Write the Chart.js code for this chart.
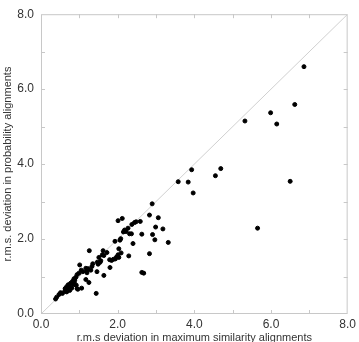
<!DOCTYPE html>
<html>
<head>
<meta charset="utf-8">
<script src="https://cdn.jsdelivr.net/npm/chart.js@4"></script>
<style>
  html, body { margin: 0; padding: 0; background: #fff; }
  #wrap { width: 359px; height: 342px; }
</style>
</head>
<body>
<div id="wrap"><canvas id="scatter"></canvas></div>
<script>
// r.m.s deviation in maximum similarity alignments
const xValues = [
  6.86, 6.62, 5.99, 6.15, 5.32, 4.69, 3.93, 3.84, 4.55, 3.97, 6.50, 5.65, 3.58, 2.90,
  2.83, 3.06, 2.12, 2.01, 2.59, 2.44, 2.48, 2.37, 2.99, 2.27, 2.18, 2.22, 2.15, 3.18,
  2.63, 2.31, 2.36, 2.91, 2.97, 3.32, 2.40, 2.06, 2.08, 1.93, 2.03, 2.09, 2.83, 2.29,
  1.97, 1.94, 1.89, 1.84, 1.79, 2.01, 2.03, 1.72, 1.62, 1.60, 1.64, 1.80, 1.26, 1.51,
  1.56, 1.54, 1.47, 1.49, 1.64, 1.46, 2.63, 2.68, 1.35, 1.33, 1.30, 1.23, 1.19, 1.17,
  1.09, 1.05, 1.01, 1.17, 1.20, 1.25, 1.44,
  0.94, 0.99, 0.91, 0.86, 0.82, 0.77, 0.87, 0.92, 0.85, 1.06, 0.94, 0.96, 0.71, 0.67,
  0.63, 0.75, 0.80, 0.62, 0.67, 0.75, 0.51, 0.47, 0.41, 0.38, 0.64, 0.56, 0.72, 0.88
];
// r.m.s. deviation in probability alignments
const yValues = [
  6.60, 5.59, 5.37, 5.07, 5.15, 3.88, 3.85, 3.52, 3.69, 3.23, 3.54, 2.29, 3.53, 2.94,
  2.64, 2.57, 2.55, 2.49, 2.47, 2.44, 2.46, 2.39, 2.32, 2.29, 2.24, 2.20, 2.19, 2.27,
  2.13, 2.14, 2.14, 2.12, 1.98, 1.91, 1.88, 1.97, 2.01, 1.94, 1.74, 1.63, 1.61, 1.55,
  1.52, 1.47, 1.46, 1.43, 1.45, 1.58, 1.51, 1.64, 1.69, 1.58, 1.56, 1.24, 1.69, 1.51,
  1.42, 1.38, 1.38, 1.33, 1.03, 1.13, 1.11, 1.09, 1.34, 1.27, 1.17, 1.21, 1.14, 1.22,
  1.13, 1.17, 1.31, 0.92, 1.10, 0.84, 0.55,
  1.05, 1.09, 0.98, 0.94, 0.87, 0.82, 0.83, 0.77, 0.78, 0.69, 0.68, 0.66, 0.78, 0.73,
  0.68, 0.76, 0.69, 0.61, 0.59, 0.63, 0.57, 0.52, 0.45, 0.40, 0.66, 0.55, 0.70, 0.90
];
const diagonal = [0, 8];
const majorTicks = [0, 2, 4, 6, 8];
const minorTicks = [1, 2, 3, 4, 5, 6, 7];

const points = xValues.map((x, i) => ({ x: x, y: yValues[i] }));
const diagLine = diagonal.map(v => ({ x: v, y: v }));

// frame round the plot with small ticks pointing inwards
const framePlugin = {
  id: 'frame',
  afterDatasetsDraw(chart) {
    const { ctx, chartArea: a, scales } = chart;
    ctx.save();
    ctx.strokeStyle = '#c8c8c8';
    ctx.lineWidth = 1;
    ctx.strokeRect(a.left + 0.5, a.top + 0.5, a.right - a.left - 1, a.bottom - a.top - 1);
    ctx.beginPath();
    minorTicks.forEach(v => {
      const px = Math.round(scales.x.getPixelForValue(v)) + 0.5;
      const py = Math.round(scales.y.getPixelForValue(v)) + 0.5;
      ctx.moveTo(px, a.bottom); ctx.lineTo(px, a.bottom - 4);
      ctx.moveTo(px, a.top); ctx.lineTo(px, a.top + 4);
      ctx.moveTo(a.left, py); ctx.lineTo(a.left + 4, py);
      ctx.moveTo(a.right, py); ctx.lineTo(a.right - 4, py);
    });
    ctx.stroke();
    ctx.restore();
  }
};

const font = { family: '"Liberation Sans", Arial, sans-serif', size: 12 };

new Chart(document.getElementById('scatter'), {
  type: 'scatter',
  data: {
    datasets: [
      {
        data: points,
        backgroundColor: '#000',
        borderColor: '#000',
        pointRadius: 2,
        pointHoverRadius: 2
      },
      {
        type: 'line',
        data: diagLine,
        borderColor: '#d0d0d0',
        borderWidth: 1,
        pointRadius: 0,
        fill: false
      }
    ]
  },
  options: {
    responsive: true,
    maintainAspectRatio: false,
    animation: false,
    layout: { padding: { top: 10, right: 10, left: 0, bottom: 0 } },
    plugins: { legend: { display: false }, tooltip: { enabled: false } },
    scales: {
      x: {
        type: 'linear',
        min: 0,
        max: 8,
        afterBuildTicks: s => { s.ticks = majorTicks.map(v => ({ value: v })); },
        afterFit: s => { s.height = 28; },
        grid: { display: false, drawTicks: false },
        border: { display: false },
        ticks: { color: '#333', font: font, padding: 3, maxRotation: 0,
                 callback: v => v.toFixed(1) },
        title: { display: true, text: 'r.m.s deviation in maximum similarity alignments',
                 color: '#333', font: { family: font.family, size: 11 },
                 padding: { top: 0, bottom: -3 } }
      },
      y: {
        type: 'linear',
        min: 0,
        max: 8,
        afterBuildTicks: s => { s.ticks = majorTicks.map(v => ({ value: v })); },
        afterFit: s => { s.width = 41; },
        grid: { display: false, drawTicks: false },
        border: { display: false },
        ticks: { color: '#333', font: font, padding: 7,
                 callback: v => v.toFixed(1) },
        title: { display: true, text: 'r.m.s. deviation in probability alignments',
                 color: '#333', font: { family: font.family, size: 11 },
                 padding: { top: 1, bottom: 0 } }
      }
    }
  },
  plugins: [framePlugin]
});
</script>
</body>
</html>
